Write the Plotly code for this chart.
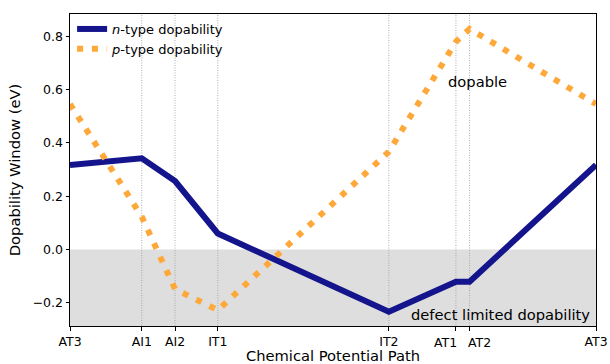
import plotly.graph_objects as go

# Chemical potential path: stops along the path and their positions (fraction of path length)
path_labels = ["AT3", "AI1", "AI2", "IT1", "IT2", "AT1", "AT2", "AT3"]
path_pos = [0.0, 0.1364, 0.1997, 0.281, 0.6062, 0.7337, 0.7596, 1.0]

# Dopability windows (eV) at each stop
n_type = [0.317, 0.342, 0.257, 0.060, -0.234, -0.121, -0.121, 0.317]
p_type = [0.546, 0.123, -0.149, -0.228, 0.367, 0.780, 0.828, 0.546]

y_range = [-0.2875, 0.884]
y_ticks = [-0.2, 0.0, 0.2, 0.4, 0.6, 0.8]

FONT = "DejaVu Sans"
TICK_SIZE = 12.5

# AT1 and AT2 sit very close together; their labels are placed on either side of the ticks
close_pair = {5: ("right", 3.3), 6: ("left", -3.6)}
tick_text = ["" if i in close_pair else lab for i, lab in enumerate(path_labels)]

fig = go.Figure()

fig.add_trace(go.Scatter(
    x=path_pos, y=n_type, mode="lines",
    name="<i>n</i>-type dopability",
    line=dict(color="#14148c", width=6),
))
fig.add_trace(go.Scatter(
    x=path_pos, y=p_type, mode="lines",
    name="<i>p</i>-type dopability",
    line=dict(color="#ffa83a", width=6, dash="6px,8.8px"),
))

shapes = [
    # region below zero: defect limited
    dict(type="rect", xref="x domain", yref="y", x0=0, x1=1, y0=y_range[0], y1=0,
         fillcolor="#dedede", line=dict(width=0), layer="below"),
]
# guide lines at the intermediate stops
for xv in path_pos[1:-1]:
    shapes.append(dict(type="line", xref="x", yref="y domain", x0=xv, x1=xv, y0=0, y1=1,
                       line=dict(color="#9a9a9a", width=0.8, dash="1px,1.5px"), layer="below"))

annotations = [
    dict(x=0.775, y=0.631, xref="x", yref="y", text="dopable", showarrow=False,
         font=dict(size=14.7, family=FONT), xanchor="center", yanchor="middle"),
    dict(x=0.992, y=-0.246, xref="x", yref="y", text="defect limited dopability",
         showarrow=False, font=dict(size=14.7, family=FONT),
         xanchor="right", yanchor="middle"),
]
for i, (anchor, shift) in close_pair.items():
    annotations.append(dict(
        x=path_pos[i], y=0, xref="x", yref="paper", text=path_labels[i],
        showarrow=False, xanchor=anchor, yanchor="top", xshift=shift, yshift=-6.5,
        font=dict(size=TICK_SIZE, family=FONT)))

fig.update_layout(
    width=610, height=364,
    margin=dict(l=70, r=14.3, t=13.5, b=38),
    paper_bgcolor="white", plot_bgcolor="white",
    font=dict(family=FONT, color="black", size=12),
    shapes=shapes,
    showlegend=True,
    legend=dict(x=0.004, y=1.0, xanchor="left", yanchor="top",
                bgcolor="rgba(0,0,0,0)", font=dict(size=13, family=FONT),
                itemwidth=30, tracegroupgap=0),
    annotations=annotations,
)

fig.update_xaxes(
    range=[0, 1], tickmode="array", tickvals=path_pos, ticktext=tick_text,
    tickangle=0, automargin=False,
    ticks="outside", ticklen=3.5, tickwidth=1, tickcolor="black",
    showline=True, linecolor="black", linewidth=1, mirror=True,
    showgrid=False, zeroline=False,
    tickfont=dict(size=TICK_SIZE, family=FONT),
    title=dict(text="Chemical Potential Path", font=dict(size=14.7, family=FONT), standoff=3),
)
fig.update_yaxes(
    range=y_range, tickmode="array", tickvals=y_ticks, tickformat=".1f",
    automargin=False,
    ticks="outside", ticklen=3.5, tickwidth=1, tickcolor="black",
    showline=True, linecolor="black", linewidth=1, mirror=True,
    showgrid=False, zeroline=False,
    tickfont=dict(size=TICK_SIZE, family=FONT),
    title=dict(text="Dopability Window (eV)", font=dict(size=14.7, family=FONT), standoff=8),
)

fig.write_html("out.html")
